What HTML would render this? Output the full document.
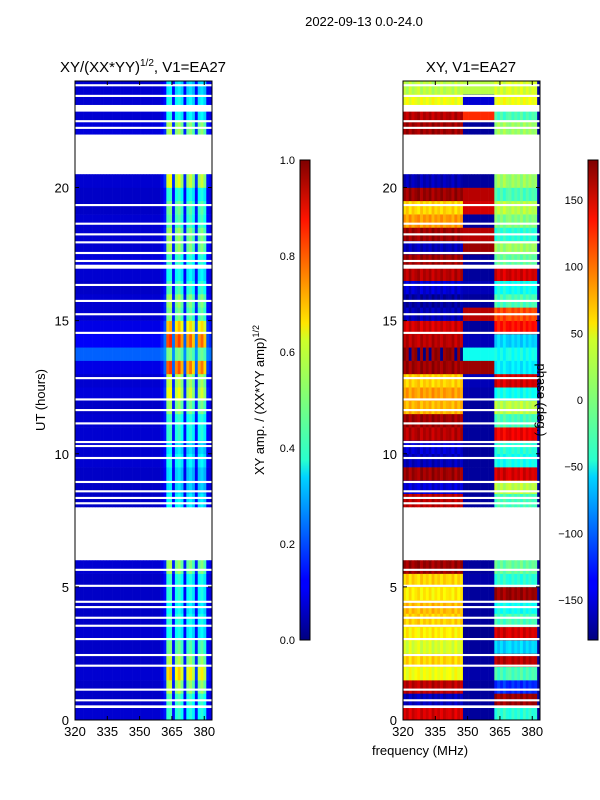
<!DOCTYPE html>
<html><head><meta charset="utf-8"><style>
body{margin:0;background:#fff;}
svg{display:block;font-family:"Liberation Sans","DejaVu Sans",sans-serif;}
</style></head><body>
<svg id="fig" width="600" height="800" viewBox="0 0 600 800">
<defs>
<linearGradient id="jet" x1="0" y1="1" x2="0" y2="0">
<stop offset="0" stop-color="#00007f"/><stop offset="0.11" stop-color="#0000ff"/><stop offset="0.125" stop-color="#0000ff"/>
<stop offset="0.34" stop-color="#00d4ff"/><stop offset="0.375" stop-color="#29ffce"/><stop offset="0.5" stop-color="#7dff7a"/>
<stop offset="0.625" stop-color="#ceff29"/><stop offset="0.66" stop-color="#ffe500"/><stop offset="0.875" stop-color="#ff1400"/><stop offset="1" stop-color="#7f0000"/>
</linearGradient>
</defs>
<text x="364" y="26" font-size="13" text-anchor="middle">2022-09-13 0.0-24.0</text>
<text x="143" y="72" font-size="15" text-anchor="middle">XY/(XX*YY)<tspan font-size="10" dy="-6">1/2</tspan><tspan dy="6">, V1=EA27</tspan></text>
<text x="471" y="72" font-size="15" text-anchor="middle">XY, V1=EA27</text>
<g id="ampPlot"></g>
<g id="phPlot"></g>
<g id="axes"></g>
<text transform="translate(45,400) rotate(-90)" font-size="13" text-anchor="middle">UT (hours)</text>
<text x="420" y="755" font-size="13" text-anchor="middle">frequency (MHz)</text>
<rect x="300" y="160" width="10" height="480" fill="url(#jet)" stroke="#000" stroke-width="1"/>
<rect x="588" y="160" width="10" height="480" fill="url(#jet)" stroke="#000" stroke-width="1"/>
<text transform="translate(264,400) rotate(-90)" font-size="13" text-anchor="middle">XY amp. / (XX*YY amp)<tspan font-size="9" dy="-5">1/2</tspan></text>
<text transform="translate(537,400) rotate(90)" font-size="13" text-anchor="middle">phase (deg.)</text>
</svg>
<script>
const freqMin=320, freqMax=383.6, hMin=0, hMax=24;
const xTicks=[320,335,350,365,380];
const yTicks=[0,5,10,15,20];
const ampCbTicks=[0.0,0.2,0.4,0.6,0.8,1.0];
const phCbTicks=[-150,-100,-50,0,50,100,150];
// 48 frequency columns (1.325 MHz each)
const colAmp=[0,0,0,0,0,0,0,0,0,0,0,0,0,0,0,0,0,0,0,0,0,0,0,0,0,0,0,0,0,0,0.02,0.06,0.34,0.36,0.06,0.32,0.35,0.3,0.05,0.3,0.33,0.28,0.06,0.3,0.33,0.28,0.04,0.02];
// 48 half-hour rows from 0h
const rowBase=[0.08,0.07,0.07,0.08,0.07,0.07,0.08,0.07,0.07,0.07,0.07,0.08,0.08,0.07,0.07,0.07,0.07,0.07,0.07,0.08,0.08,0.08,0.08,0.07,0.09,0.08,0.1,0.22,0.12,0.1,0.08,0.08,0.07,0.08,0.09,0.08,0.08,0.08,0.07,0.07,0.08,0.1,0.08,0.08,0.09,0.08,0.08,0.08];
const rowAmp=[1.0,1.1,1.4,1.7,1.4,1.2,0.9,1.0,0.9,1.0,1.0,1.3,0,0,0,0,0.9,0.8,0.8,0.9,0.8,1.0,1.0,1.3,1.5,1.4,2.0,0.8,2.0,1.7,1.2,1.3,1.1,0.9,1.0,1.3,1.3,1.1,1.2,1.0,1.5,0,0,0,1.3,0.9,0.9,0.8];
const phLeft=[150,-160,160,40,60,30,50,60,70,50,60,170,0,0,0,0,160,-150,170,-160,-150,160,170,70,80,60,170,175,160,150,-160,-170,-150,160,170,-160,170,80,60,170,-160,0,0,0,170,160,40,20];
const phMid=[-170,-170,-170,-165,-170,-170,-175,-170,-170,-170,-165,-170,0,0,0,0,-170,-170,-170,-170,-170,-170,-170,-170,-165,-160,170,-40,-160,-170,160,-170,-160,-170,-170,170,160,-170,150,160,-170,0,0,0,-170,120,-150,20];
const phRight=[-30,170,-120,-20,160,-60,150,-20,-40,170,-30,-10,0,0,0,0,-20,20,150,-40,-30,140,-20,20,-40,150,-50,-40,-60,130,110,-20,-40,150,-10,10,-30,0,20,-20,10,0,0,0,10,-20,40,30];
const colJit=[5,-8,10,-6,3,10,-8,6,-3,8,-10,4,-4,8,-6,2,5,-8,10,-4,6,0,0,0,0,0,0,0,0,0,0,0,6,-8,6,-10,4,8,-6,5,-4,10,-8,6,-5,4,0,0];
const flagSpans=[[6.1,7.95],[20.65,21.85],[22.85,23.1],[0.45,0.55],[0.7,0.78],[1.1,1.18],[2.0,2.08],[2.4,2.48],[3.0,3.08],[3.5,3.58],[3.8,3.88],[4.2,4.28],[4.4,4.48],[5.0,5.08],[5.6,5.68],[8.1,8.18],[8.3,8.38],[8.55,8.63],[8.9,8.98],[9.8,9.88],[10.25,10.33],[10.4,10.48],[11.1,11.18],[11.6,11.68],[12.0,12.08],[12.8,12.88],[14.5,14.58],[15.2,15.28],[15.7,15.78],[16.3,16.38],[16.95,17.1],[17.2,17.28],[17.5,17.58],[17.9,17.98],[18.2,18.28],[18.6,18.68],[19.3,19.38],[22.2,22.28],[22.45,22.53],[23.4,23.48],[23.8,23.88]];

const panels=[{x0:75,x1:212,g:'ampPlot',kind:'amp'},{x0:403,x1:540,g:'phPlot',kind:'ph'}];
const yB=720,yTop=81;
function yScale(h){return yB-(h-hMin)/(hMax-hMin)*(yB-yTop);}
function xScaleFor(p){return f=>p.x0+(f-freqMin)/(freqMax-freqMin)*(p.x1-p.x0);}
function jet(v){v=Math.max(0,Math.min(1,v));
 const r=Math.max(0,Math.min(1,1.5-Math.abs(4*v-3))),g=Math.max(0,Math.min(1,1.5-Math.abs(4*v-2))),b=Math.max(0,Math.min(1,1.5-Math.abs(4*v-1)));
 return `rgb(${Math.round(r*255)},${Math.round(g*255)},${Math.round(b*255)})`;}
const NS='http://www.w3.org/2000/svg';
function mk(tag,attrs,parent){const e=document.createElementNS(NS,tag);for(const k in attrs)e.setAttribute(k,attrs[k]);parent.appendChild(e);return e;}
const nC=colAmp.length,nR=rowAmp.length,df=(freqMax-freqMin)/nC,dh=(hMax-hMin)/nR;
panels.forEach(p=>{
 const g=document.getElementById(p.g),xs=xScaleFor(p);
 mk('rect',{x:p.x0,y:yTop,width:p.x1-p.x0,height:yB-yTop,fill:'#fff'},g);
 for(let i=0;i<nR;i++){
  if(rowAmp[i]===0)continue;
  for(let j=0;j<nC;j++){
   let v;
   if(p.kind==='amp'){v=rowBase[i]+colAmp[j]*rowAmp[i];}
   else{let ph=j<21?phLeft[i]:(j<32?phMid[i]:(j<47?phRight[i]:-170));ph+=colJit[j]*((i%2)?1:-1);
     if(ph>180)ph-=360;if(ph<-180)ph+=360;v=(ph+180)/360;}
   const x=xs(freqMin+j*df),x2=xs(freqMin+(j+1)*df),y=yScale(hMin+(i+1)*dh),y2=yScale(hMin+i*dh);
   const r=mk('rect',{x:x.toFixed(2),y:y.toFixed(2),width:(x2-x+0.3).toFixed(2),height:(y2-y+0.3).toFixed(2),fill:jet(v)},g);
   
   
  }
 }
 flagSpans.forEach(s=>{
  const r=mk('rect',{x:p.x0,y:yScale(s[1]).toFixed(2),width:p.x1-p.x0,height:(yScale(s[0])-yScale(s[1])).toFixed(2),fill:'#fff'},g);
  
  
 });
 const ax=document.getElementById('axes');
 const fr=mk('rect',{x:p.x0,y:yTop,width:p.x1-p.x0,height:yB-yTop,fill:'none',stroke:'#000','stroke-width':1},ax);
 
 
 xTicks.forEach(t=>{const x=xs(t);
  mk('line',{x1:x,y1:yB,x2:x,y2:yB-4,stroke:'#000'},ax);mk('line',{x1:x,y1:yTop,x2:x,y2:yTop+4,stroke:'#000'},ax);
  const tx=mk('text',{x:x,y:yB+16,'font-size':13,'text-anchor':'middle'},ax);tx.textContent=t;
  
  });
 yTicks.forEach(t=>{const y=yScale(t);
  mk('line',{x1:p.x0,y1:y,x2:p.x0+4,y2:y,stroke:'#000'},ax);mk('line',{x1:p.x1,y1:y,x2:p.x1-4,y2:y,stroke:'#000'},ax);
  const tx=mk('text',{x:p.x0-6,y:y+5,'font-size':13,'text-anchor':'end'},ax);tx.textContent=t;
  
  });
});
const ax=document.getElementById('axes');
ampCbTicks.forEach(t=>{const y=640-t*480;
 mk('line',{x1:300,y1:y,x2:310,y2:y,stroke:'#000'},ax);
 const tx=mk('text',{x:295,y:y+4,'font-size':11,'text-anchor':'end'},ax);tx.textContent=t.toFixed(1);
 
 });
phCbTicks.forEach(t=>{const y=640-(t+180)/360*480;
 mk('line',{x1:588,y1:y,x2:598,y2:y,stroke:'#000'},ax);
 const tx=mk('text',{x:583,y:y+4,'font-size':11,'text-anchor':'end'},ax);tx.textContent=t<0?'\u2212'+(-t):t;
 
 });
</script>
</body></html>
